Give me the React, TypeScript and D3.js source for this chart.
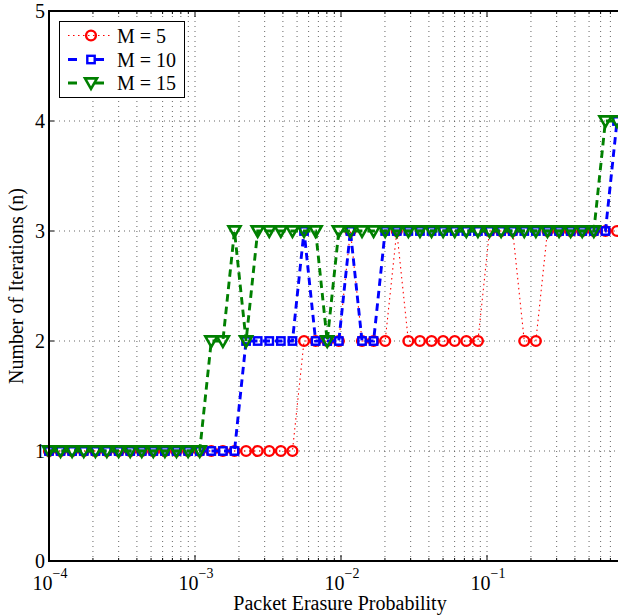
import React from "react";
import * as d3 from "d3";

// Packet erasure probabilities (log-spaced sample points)
const xValues = [
  1.0e-4, 1.2e-4, 1.44e-4, 1.73e-4, 2.08e-4, 2.49e-4, 3.0e-4, 3.6e-4, 4.32e-4, 5.18e-4,
  6.22e-4, 7.47e-4, 8.97e-4, 1.077e-3, 1.293e-3, 1.552e-3, 1.864e-3, 2.238e-3, 2.687e-3, 3.226e-3,
  3.873e-3, 4.65e-3, 5.583e-3, 6.703e-3, 8.047e-3, 9.661e-3, 1.16e-2, 1.393e-2, 1.672e-2, 2.007e-2,
  2.41e-2, 2.893e-2, 3.474e-2, 4.171e-2, 5.007e-2, 6.012e-2, 7.218e-2, 8.666e-2, 0.104, 0.1249,
  0.15, 0.18, 0.2161, 0.2595, 0.3116, 0.3741, 0.4491, 0.5392, 0.6474, 0.7773,
];

const m5 = [
  1, 1, 1, 1, 1, 1, 1, 1, 1, 1, 1, 1, 1, 1, 1, 1, 1, 1, 1, 1, 1, 1,
  2, 2, 2, 2, 3, 2, 2, 2, 3, 2, 2, 2, 2, 2, 2, 2, 3, 3, 3, 2, 2,
  3, 3, 3, 3, 3, 3, 3,
];
const m10 = [
  1, 1, 1, 1, 1, 1, 1, 1, 1, 1, 1, 1, 1, 1, 1, 1, 1,
  2, 2, 2, 2, 2, 3, 2, 2, 2, 3, 2, 2,
  3, 3, 3, 3, 3, 3, 3, 3, 3, 3, 3, 3, 3, 3, 3, 3, 3, 3, 3, 3, 4,
];
const m15 = [
  1, 1, 1, 1, 1, 1, 1, 1, 1, 1, 1, 1, 1, 1,
  2, 2, 3, 2, 3, 3, 3, 3, 3, 3, 2,
  3, 3, 3, 3, 3, 3, 3, 3, 3, 3, 3, 3, 3, 3, 3, 3, 3, 3, 3, 3, 3, 3, 3, 4, 4,
];

const seriesNames = ["M = 5", "M = 10", "M = 15"];
const yTicks = [0, 1, 2, 3, 4, 5];
const xDecades = [1e-4, 1e-3, 1e-2, 1e-1];
const xDecadeExps = ["\u22124", "\u22123", "\u22122", "\u22121"];

const W = 618;
const H = 616;
const left = 49;
const top = 11;
const bottom = 561;
const xRight = 633;

const FONT = "'Liberation Serif', 'Times New Roman', Times, serif";

type Kind = "circle" | "square" | "tri";

function Marker({ kind, x, y, color }: { kind: Kind; x: number; y: number; color: string }) {
  if (kind === "circle")
    return <circle cx={x} cy={y} r={4.9} fill="none" stroke={color} strokeWidth={2.4} />;
  if (kind === "square")
    return <rect x={x - 3.7} y={y - 3.7} width={7.4} height={7.4} fill="none" stroke={color} strokeWidth={2.4} />;
  return (
    <path
      d={`M${x - 6},${y - 4.6}L${x + 6},${y - 4.6}L${x},${y + 5.8}Z`}
      fill="none"
      stroke={color}
      strokeWidth={2.6}
      strokeLinejoin="miter"
    />
  );
}

export default function App() {
  const x = d3.scaleLog().domain([1e-4, 1]).range([left, xRight]);
  const y = d3.scaleLinear().domain([0, 5]).range([bottom, top]);

  const series = [
    { name: seriesNames[0], values: m5, color: "#ff0000", dash: "1.5,3.5", width: 1.1, kind: "circle" as Kind },
    { name: seriesNames[1], values: m10, color: "#0000ff", dash: "7.5,5", width: 2.9, kind: "square" as Kind },
    { name: seriesNames[2], values: m15, color: "#008000", dash: "7.5,5", width: 2.9, kind: "tri" as Kind },
  ];

  const line = d3
    .line<number>()
    .x((_, i) => x(xValues[i]))
    .y((d) => y(d));

  const gridX: number[] = [];
  const minorX: number[] = [];
  xDecades.forEach((dec) => {
    for (let k = 1; k <= 9; k++) {
      const v = dec * k;
      if (v > 1) continue;
      if (k > 1) minorX.push(v);
      gridX.push(v);
    }
  });

  const legendY = [35.5, 59.5, 83];

  return (
    <svg
      width={W}
      height={H}
      style={{ position: "absolute", left: 0, top: 0, background: "#fff" }}
      fontFamily={FONT}
    >
      <rect x={0} y={0} width={W} height={H} fill="#fff" />
      <defs>
        <clipPath id="plotclip">
          <rect x={left - 8} y={top - 8} width={W} height={bottom - top + 16} />
        </clipPath>
      </defs>
      {/* grid */}
      <g stroke="#555" strokeWidth={0.9} strokeDasharray="1,4">
        {gridX
          .filter((v) => v > 1e-4)
          .map((v, i) => (
            <line key={"gx" + i} x1={x(v)} x2={x(v)} y1={top} y2={bottom} />
          ))}
        {yTicks
          .filter((t) => t > 0 && t < 5)
          .map((t) => (
            <line key={"gy" + t} x1={left} x2={xRight} y1={y(t)} y2={y(t)} />
          ))}
      </g>
      {/* ticks */}
      <g stroke="#000" strokeWidth={1}>
        {xDecades.map((v, i) => (
          <g key={"mt" + i}>
            <line x1={x(v)} x2={x(v)} y1={bottom} y2={bottom - 6} />
            <line x1={x(v)} x2={x(v)} y1={top} y2={top + 6} />
          </g>
        ))}
        {minorX.map((v, i) => (
          <g key={"mn" + i}>
            <line x1={x(v)} x2={x(v)} y1={bottom} y2={bottom - 3} />
            <line x1={x(v)} x2={x(v)} y1={top} y2={top + 3} />
          </g>
        ))}
        {yTicks.map((t) => (
          <line key={"yt" + t} x1={left} x2={left + 5} y1={y(t)} y2={y(t)} />
        ))}
      </g>
      {/* data */}
      <g clipPath="url(#plotclip)">
        {series.map((s) => (
          <g key={s.name}>
            <path
              d={line(s.values) || ""}
              fill="none"
              stroke={s.color}
              strokeWidth={s.width}
              strokeDasharray={s.dash}
            />
            {s.values.map((v, i) => (
              <Marker key={i} kind={s.kind} x={x(xValues[i])} y={y(v)} color={s.color} />
            ))}
          </g>
        ))}
      </g>
      {/* axes box */}
      <g stroke="#000" strokeWidth={2} fill="none">
        <line x1={left} x2={left} y1={top - 1} y2={bottom + 1} />
        <line x1={left - 1} x2={xRight} y1={bottom} y2={bottom} />
        <line x1={left - 1} x2={xRight} y1={top} y2={top} />
      </g>
      {/* y tick labels */}
      <g fontSize={20} textAnchor="end" fill="#000">
        {yTicks.map((t) => (
          <text key={"yl" + t} x={45} y={y(t)} dy="0.35em">
            {t}
          </text>
        ))}
      </g>
      {/* x tick labels */}
      <g fontSize={20} textAnchor="middle" fill="#000">
        {xDecades.map((v, i) => (
          <text key={"xl" + i} x={x(v) + 1} y={590}>
            10
            <tspan fontSize={14} dy={-12}>
              {xDecadeExps[i]}
            </tspan>
          </text>
        ))}
      </g>
      {/* axis labels */}
      <text x={(left + xRight) / 2 - 1} y={610} fontSize={20} textAnchor="middle">
        Packet Erasure Probability
      </text>
      <text
        transform={`translate(23,${(top + bottom) / 2}) rotate(-90)`}
        fontSize={20}
        textAnchor="middle"
      >
        Number of Iterations (n)
      </text>
      {/* legend */}
      <g>
        <rect x={59.5} y={21.5} width={125} height={76} fill="#fff" stroke="#000" strokeWidth={1} />
        {series.map((s, i) => (
          <g key={"lg" + i}>
            <line
              x1={68}
              x2={113}
              y1={legendY[i]}
              y2={legendY[i]}
              stroke={s.color}
              strokeWidth={s.width}
              strokeDasharray={i === 0 ? "1.5,3.5" : "9,18"}
            />
            <Marker kind={s.kind} x={91} y={legendY[i]} color={s.color} />
            <text x={117} y={legendY[i]} dy="0.35em" fontSize={20}>
              {s.name}
            </text>
          </g>
        ))}
      </g>
    </svg>
  );
}
